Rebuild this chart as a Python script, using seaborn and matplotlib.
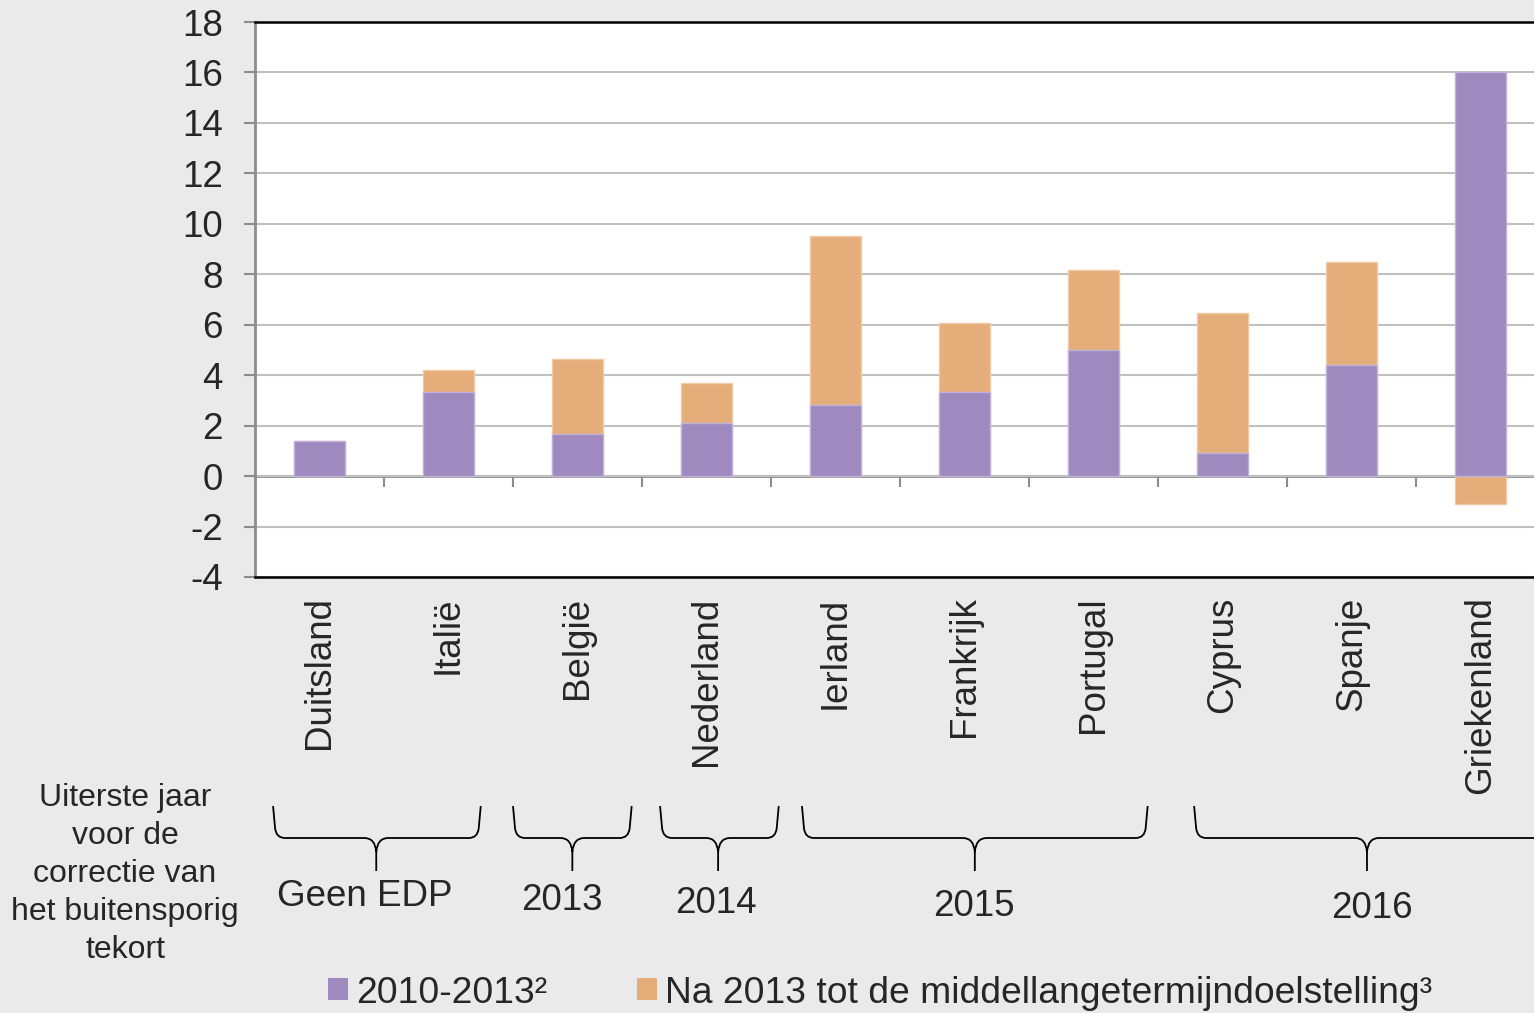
import matplotlib
matplotlib.use("Agg")
import matplotlib.pyplot as plt
import numpy as np
import pandas as pd
import seaborn as sns
from matplotlib.path import Path
from matplotlib.patches import PathPatch, Patch
from matplotlib.transforms import IdentityTransform

# ---------------- data ----------------
countries = ["Duitsland", "Italië", "België", "Nederland", "Ierland",
             "Frankrijk", "Portugal", "Cyprus", "Spanje", "Griekenland"]
until_2013 = [1.4, 3.35, 1.65, 2.1, 2.8, 3.35, 5.0, 0.9, 4.4, 16.0]
after_2013 = [0.0, 0.85, 3.0, 1.6, 6.7, 2.7, 3.15, 5.55, 4.1, -1.1]
legend_labels = ["2010-2013²", "Na 2013 tot de middellangetermijndoelstelling³"]
yticks = list(range(-4, 19, 2))
group_labels = ["Geen EDP", "2013", "2014", "2015", "2016"]
side_label = "Uiterste jaar\nvoor de\ncorrectie van\nhet buitensporig\ntekort"

# ---------------- style ----------------
PURPLE = "#9e8abf"
ORANGE = "#e4ad7a"
BG = "#eaeaea"
sns.set_style("white")
plt.rcParams["font.family"] = ["Liberation Sans", "DejaVu Sans"]
plt.rcParams["axes.unicode_minus"] = False

W, H = 1534, 1013
fig = plt.figure(figsize=(W / 100, H / 100), dpi=100, facecolor=BG)
ax = fig.add_axes([255 / W, 1 - 577 / H, 1290 / W, 555 / H])
ax.set_facecolor("white")

df = pd.DataFrame({"land": countries, "a": until_2013, "b": after_2013})
# orange layer: stacked on top of purple when positive, below zero when negative
df["b_layer"] = np.where(df["b"] >= 0, df["a"] + df["b"], df["b"])

sns.barplot(data=df, x="land", y="b_layer", color=ORANGE, saturation=1,
            width=0.4, edgecolor="#f2cba6", linewidth=1, ax=ax, zorder=2)
sns.barplot(data=df, x="land", y="a", color=PURPLE, saturation=1,
            width=0.4, edgecolor="#bfb2da", linewidth=1, ax=ax, zorder=3)

ax.set_xlim(-0.5, len(countries) - 0.5)
ax.set_ylim(-4, 18)
ax.set_yticks(yticks)
ax.set_yticklabels([str(v) for v in yticks])
ax.set_xlabel("")
ax.set_ylabel("")
ax.set_xticks(range(len(countries)))
ax.set_xticklabels(countries, rotation=90, fontsize=26.5)
ax.tick_params(axis="x", length=0, pad=14)
ax.tick_params(axis="y", labelsize=26.5, length=8, width=1.5, color="#8c8c8c",
               direction="out", pad=15, left=True)
ax.yaxis.grid(True, color="#c0c0c0", lw=1.5)
ax.xaxis.grid(False)
ax.set_axisbelow(True)

for s in ["top", "bottom"]:
    ax.spines[s].set_color("black")
    ax.spines[s].set_linewidth(1.8)
ax.spines["left"].set_color("#8c8c8c")
ax.spines["left"].set_linewidth(2)
ax.spines["right"].set_visible(False)

# zero axis with category-boundary ticks
sec = ax.secondary_xaxis(4 / 22)
sec.set_xticks(np.arange(0.5, len(countries) - 1, 1.0))
sec.set_xticklabels([])
sec.tick_params(axis="x", direction="out", length=8, width=1.5, color="#8c8c8c")
sec.spines["bottom"].set_color("#8c8c8c")
sec.spines["bottom"].set_linewidth(2)

fig.canvas.draw()

# ---------------- braces below the axis ----------------
brace_spans = [(-0.36, 1.25, 0.44), (1.50, 2.42, 1.96), (2.64, 3.56, 3.09),
               (3.74, 6.42, 5.08), (6.78, 9.75, 8.12)]
label_pos = [(0.35, 896), (1.876, 900), (3.07, 903), (5.07, 906), (8.16, 908)]
top_y, h_y, bot_y = 806, 838, 871


def px(xd):
    return ax.transData.transform((xd, 0))[0]


def D(x, y):
    return (x, H - y)


for (x0d, x1d, td) in brace_spans:
    x0, x1, t = px(x0d), px(x1d), px(td)
    verts = [D(x0, top_y), D(x0 + 2, h_y - 10), D(x0 + 3, h_y), D(x0 + 12, h_y),
             D(t - 12, h_y), D(t - 1, h_y), D(t, h_y + 14), D(t, bot_y),
             D(t, h_y + 14), D(t + 1, h_y), D(t + 12, h_y),
             D(x1 - 12, h_y), D(x1 - 3, h_y), D(x1 - 2, h_y - 10), D(x1, top_y)]
    codes = [Path.MOVETO, Path.LINETO, Path.CURVE3, Path.CURVE3,
             Path.LINETO, Path.CURVE3, Path.CURVE3, Path.LINETO,
             Path.MOVETO, Path.CURVE3, Path.CURVE3,
             Path.LINETO, Path.CURVE3, Path.CURVE3, Path.LINETO]
    fig.add_artist(PathPatch(Path(verts, codes), fill=False, lw=1.3,
                             edgecolor="black", transform=IdentityTransform()))

for lab, (xd, yp) in zip(group_labels, label_pos):
    fig.text(px(xd) / W, 1 - yp / H, lab, ha="center", va="center", fontsize=26.5)

fig.text(125 / W, 1 - 874 / H, side_label, ha="center", va="center",
         fontsize=23, linespacing=1.34)

# ---------------- legend ----------------
leg = ax.get_legend()
if leg is not None:
    leg.remove()
handles = [Patch(facecolor=PURPLE, edgecolor="none"),
           Patch(facecolor=ORANGE, edgecolor="none")]
fig.legend(handles, legend_labels, loc="center", bbox_to_anchor=(880 / W, 1 - 993 / H),
           ncol=2, frameon=False, fontsize=26.8, handlelength=0.54, handleheight=0.54,
           handletextpad=0.22, columnspacing=2.4, borderpad=0, borderaxespad=0)

fig.savefig("out.png", dpi=100, facecolor=BG)
